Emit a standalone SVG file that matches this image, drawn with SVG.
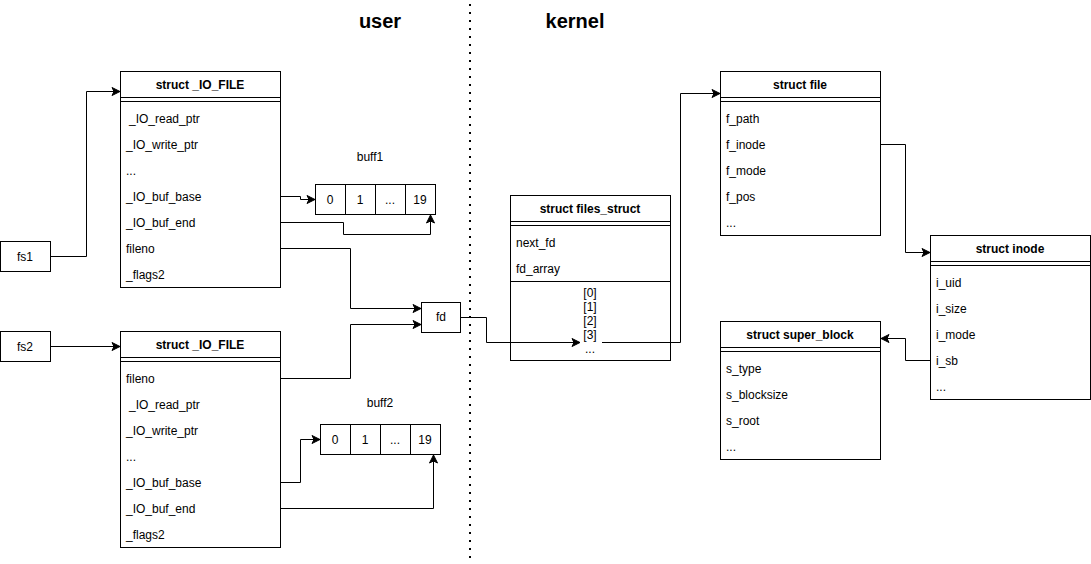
<svg xmlns="http://www.w3.org/2000/svg" width="1091" height="564" viewBox="0 0 1091 564">
<style>
.box{fill:#fff;stroke:#000;stroke-width:1}
.ln{stroke:#000;stroke-width:1;fill:none}
.t{font-family:"Liberation Sans",Arial,sans-serif;font-size:12px;fill:#000}
.h{font-family:"Liberation Sans",Arial,sans-serif;font-size:12px;font-weight:bold;fill:#000;text-anchor:middle}
.c{text-anchor:middle}
.big{font-family:"Liberation Sans",Arial,sans-serif;font-size:20px;font-weight:bold;fill:#000;text-anchor:middle}
.e{stroke:#000;stroke-width:1;fill:none;marker-end:url(#arr)}
</style>
<defs>
<marker id="arr" markerUnits="userSpaceOnUse" markerWidth="10" markerHeight="10" refX="8" refY="4" orient="auto" overflow="visible">
<path d="M0,0 L8,4 L0,8 L2,4 z" fill="#000" stroke="#000" stroke-width="1"/>
</marker>
</defs>
<rect x="0" y="0" width="1091" height="564" fill="#fff"/>

<text class="big" x="380" y="28">user</text>
<text class="big" x="575" y="28">kernel</text>
<line x1="470" y1="4" x2="470" y2="564" stroke="#000" stroke-width="2" stroke-dasharray="2 6"/>

<g id="fs1"><rect class="box" x="0.5" y="241.5" width="50" height="30"/><text class="t c" x="25" y="261">fs1</text></g>
<g id="fs2"><rect class="box" x="0.5" y="331.5" width="50" height="30"/><text class="t c" x="25" y="351">fs2</text></g>

<g id="iofile1">
<rect class="box" x="120.5" y="71.5" width="160" height="216"/>
<line class="ln" x1="120.5" y1="97.5" x2="280.5" y2="97.5"/>
<line class="ln" x1="120.5" y1="101.5" x2="280.5" y2="101.5"/>
<text class="h" x="200" y="89">struct _IO_FILE</text>
<text class="t" x="129" y="123">_IO_read_ptr</text>
<text class="t" x="126" y="149">_IO_write_ptr</text>
<text class="t" x="126" y="175">...</text>
<text class="t" x="126" y="201">_IO_buf_base</text>
<text class="t" x="126" y="227">_IO_buf_end</text>
<text class="t" x="126" y="253">fileno</text>
<text class="t" x="126" y="279">_flags2</text>
</g>

<g id="iofile2">
<rect class="box" x="120.5" y="331.5" width="160" height="216"/>
<line class="ln" x1="120.5" y1="357.5" x2="280.5" y2="357.5"/>
<line class="ln" x1="120.5" y1="361.5" x2="280.5" y2="361.5"/>
<text class="h" x="200" y="349">struct _IO_FILE</text>
<text class="t" x="126" y="383">fileno</text>
<text class="t" x="129" y="409">_IO_read_ptr</text>
<text class="t" x="126" y="435">_IO_write_ptr</text>
<text class="t" x="126" y="461">...</text>
<text class="t" x="126" y="487">_IO_buf_base</text>
<text class="t" x="126" y="513">_IO_buf_end</text>
<text class="t" x="126" y="539">_flags2</text>
</g>

<g id="buff1">
<text class="t c" x="370" y="161">buff1</text>
<rect class="box" x="315.5" y="184.5" width="30" height="30"/>
<rect class="box" x="345.5" y="184.5" width="30" height="30"/>
<rect class="box" x="375.5" y="184.5" width="30" height="30"/>
<rect class="box" x="405.5" y="184.5" width="30" height="30"/>
<text class="t c" x="330" y="204">0</text>
<text class="t c" x="360" y="204">1</text>
<text class="t c" x="390" y="204">...</text>
<text class="t c" x="420" y="204">19</text>
</g>

<g id="buff2">
<text class="t c" x="380" y="407">buff2</text>
<rect class="box" x="320.5" y="424.5" width="30" height="30"/>
<rect class="box" x="350.5" y="424.5" width="30" height="30"/>
<rect class="box" x="380.5" y="424.5" width="30" height="30"/>
<rect class="box" x="410.5" y="424.5" width="30" height="30"/>
<text class="t c" x="335" y="444">0</text>
<text class="t c" x="365" y="444">1</text>
<text class="t c" x="395" y="444">...</text>
<text class="t c" x="425" y="444">19</text>
</g>

<g id="fd"><rect class="box" x="421.5" y="302.5" width="39" height="30"/><text class="t c" x="441" y="321">fd</text></g>

<g id="files_struct">
<rect class="box" x="510.5" y="195.5" width="160" height="165"/>
<line class="ln" x1="510.5" y1="221.5" x2="670.5" y2="221.5"/>
<line class="ln" x1="510.5" y1="225.5" x2="670.5" y2="225.5"/>
<line class="ln" x1="510.5" y1="281.5" x2="670.5" y2="281.5"/>
<text class="h" x="590" y="213">struct files_struct</text>
<text class="t" x="516" y="247">next_fd</text>
<text class="t" x="516" y="273">fd_array</text>
<text class="t c" x="590" y="297">[0]</text>
<text class="t c" x="590" y="311">[1]</text>
<text class="t c" x="590" y="325">[2]</text>
<text class="t c" x="590" y="339">[3]</text>
<text class="t c" x="590" y="353">...</text>
</g>

<g id="file">
<rect class="box" x="720.5" y="71.5" width="160" height="164"/>
<line class="ln" x1="720.5" y1="97.5" x2="880.5" y2="97.5"/>
<line class="ln" x1="720.5" y1="101.5" x2="880.5" y2="101.5"/>
<text class="h" x="800" y="89">struct file</text>
<text class="t" x="726" y="123">f_path</text>
<text class="t" x="726" y="149">f_inode</text>
<text class="t" x="726" y="175">f_mode</text>
<text class="t" x="726" y="201">f_pos</text>
<text class="t" x="726" y="227">...</text>
</g>

<g id="inode">
<rect class="box" x="930.5" y="235.5" width="160" height="164"/>
<line class="ln" x1="930.5" y1="261.5" x2="1090.5" y2="261.5"/>
<line class="ln" x1="930.5" y1="265.5" x2="1090.5" y2="265.5"/>
<text class="h" x="1010" y="253">struct inode</text>
<text class="t" x="936" y="287">i_uid</text>
<text class="t" x="936" y="313">i_size</text>
<text class="t" x="936" y="339">i_mode</text>
<text class="t" x="936" y="365">i_sb</text>
<text class="t" x="936" y="391">...</text>
</g>

<g id="super_block">
<rect class="box" x="720.5" y="321.5" width="160" height="138"/>
<line class="ln" x1="720.5" y1="347.5" x2="880.5" y2="347.5"/>
<line class="ln" x1="720.5" y1="351.5" x2="880.5" y2="351.5"/>
<text class="h" x="800" y="339">struct super_block</text>
<text class="t" x="726" y="373">s_type</text>
<text class="t" x="726" y="399">s_blocksize</text>
<text class="t" x="726" y="425">s_root</text>
<text class="t" x="726" y="451">...</text>
</g>

<g id="connectors">
<path class="e" d="M50.5,256.5 H86.5 V91.5 H120"/>
<path class="e" d="M50.5,346.5 H120"/>
<path class="e" d="M280.5,196.5 H300.5 V199.5 H315"/>
<path class="e" d="M280.5,222.5 H343.5 V234.5 H430.5 V215"/>
<path class="e" d="M280.5,248.5 H350.5 V308.5 H421"/>
<path class="e" d="M280.5,378.5 H350.5 V324.5 H421"/>
<path class="e" d="M280.5,482.5 H300.5 V439.5 H320"/>
<path class="e" d="M280.5,508.5 H433.5 V455"/>
<path class="e" d="M461,317.5 H486.5 V342.5 H580"/>
<path class="e" d="M602,342.5 H680.5 V93.5 H720"/>
<path class="e" d="M880.5,144.5 H905.5 V252.5 H930"/>
<path class="e" d="M930.5,360.5 H905.5 V338.5 H881"/>
</g>
</svg>
